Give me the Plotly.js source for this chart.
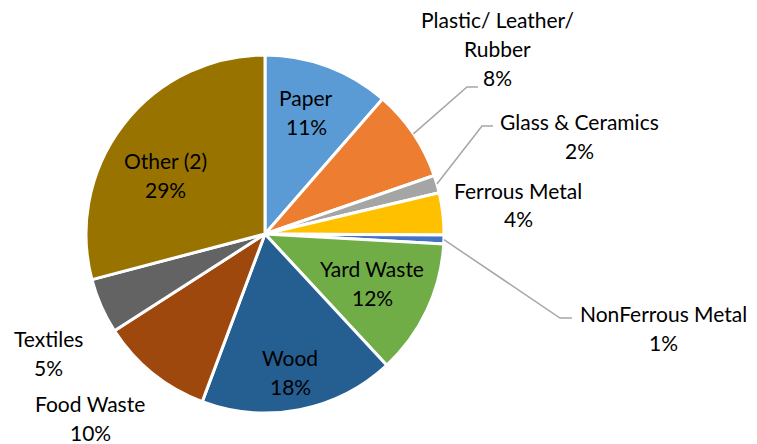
<!DOCTYPE html>
<html>
<head>
<meta charset="utf-8">
<script src="https://cdn.plot.ly/plotly-3.0.1.min.js"></script>
<style>html,body{margin:0;padding:0;background:#fff;}#chart{width:757px;height:444px;}</style>
</head>
<body>
<div id="chart"></div>
<script>
// ---- data ----
const categories = ["Paper", "Plastic/ Leather/ Rubber", "Glass & Ceramics", "Ferrous Metal",
  "NonFerrous Metal", "Yard Waste", "Wood", "Food Waste", "Textiles", "Other (2)"];
const labelLines = [["Paper"], ["Plastic/ Leather/", "Rubber"], ["Glass & Ceramics"], ["Ferrous Metal"],
  ["NonFerrous Metal"], ["Yard Waste"], ["Wood"], ["Food Waste"], ["Textiles"], ["Other (2)"]];
const values = [11.4, 8.3, 1.6, 3.8, 0.8, 12.2, 17.6, 10.2, 5.0, 29.1];
const colors = ["#5B9BD5", "#ED7D31", "#A5A5A5", "#FFC000", "#4472C4",
  "#70AD47", "#255E91", "#9E480E", "#636363", "#997300"];

// ---- layout (pixels) ----
const W = 757, H = 444;
const cx = 265, cy = 234, R = 179;
// label centre of first line [x, y]
const labelPos = [[306, 97], [497, 20], [579, 121], [518, 190], [663, 313],
  [372, 268], [290, 357], [90, 403], [48, 338], [165, 160]];
// leader line bend points (null = no leader)
const leaders = [null, [[467, 87], [478, 87]], [[482, 126], [493, 126]], null,
  [[560, 318], [572, 318]], null, null, null, null, null];
const lineGap = 29;

const px = x => x / W;
const py = y => 1 - y / H;

const total = values.reduce((a, b) => a + b, 0);
const annotations = [];
const shapes = [];
let cum = 0;
values.forEach((v, i) => {
  const mid = (cum + v / 2) / total * 2 * Math.PI;
  cum += v;
  const pct = Math.round(v / total * 100) + "%";
  const lines = labelLines[i].concat([pct]);
  lines.forEach((t, k) => {
    annotations.push({
      x: px(labelPos[i][0]), y: py(labelPos[i][1] + k * lineGap),
      xref: "paper", yref: "paper", text: t, showarrow: false,
      xanchor: "center", yanchor: "middle", borderpad: 0,
      font: {family: "Lato, 'Open Sans', sans-serif", size: 21, color: "#000"}
    });
  });
  if (leaders[i]) {
    const ex = cx + R * Math.sin(mid), ey = cy - R * Math.cos(mid);
    const pts = [[ex, ey]].concat(leaders[i]);
    let path = "M " + px(pts[0][0]) + "," + py(pts[0][1]);
    for (let j = 1; j < pts.length; j++) path += " L " + px(pts[j][0]) + "," + py(pts[j][1]);
    shapes.push({type: "path", xref: "paper", yref: "paper", path: path,
      line: {color: "#A6A6A6", width: 1.5}});
  }
});

const trace = {
  type: "pie",
  labels: categories,
  values: values,
  sort: false,
  direction: "clockwise",
  rotation: 0,
  textinfo: "none",
  hoverinfo: "none",
  marker: {colors: colors, line: {color: "#ffffff", width: 3}},
  domain: {x: [(cx - R) / W, (cx + R) / W], y: [(H - cy - R) / H, (H - cy + R) / H]}
};

const layout = {
  width: W, height: H,
  margin: {l: 0, r: 0, t: 0, b: 0},
  showlegend: false,
  paper_bgcolor: "#ffffff",
  annotations: annotations,
  shapes: shapes
};

Plotly.newPlot("chart", [trace], layout, {staticPlot: true, displayModeBar: false});
</script>
</body>
</html>
